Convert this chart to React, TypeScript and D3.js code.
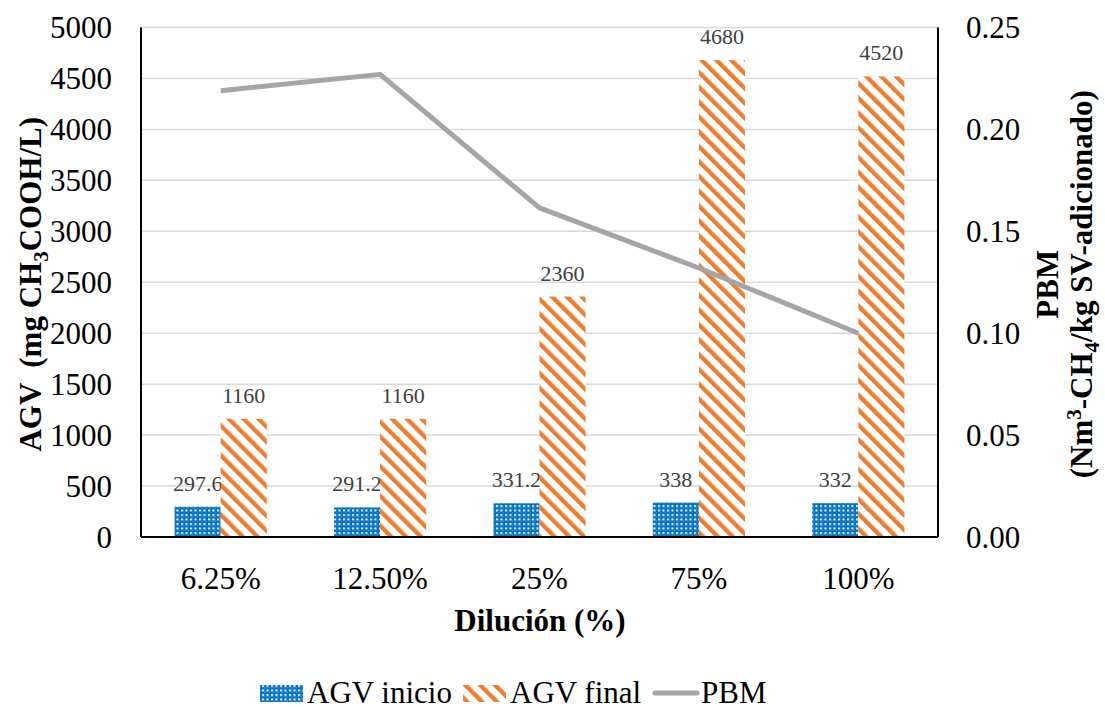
import * as d3 from "d3";

const categories = ["6.25%", "12.50%", "25%", "75%", "100%"];
const agvInicio = [297.6, 291.2, 331.2, 338, 332];
const agvFinal = [1160, 1160, 2360, 4680, 4520];
const pbm = [0.219, 0.227, 0.1615, 0.132, 0.1];
const leftTicks = d3.range(0, 5001, 500);
const rightTicks = d3.range(0, 0.2501, 0.05);
const seriesNames = ["AGV inicio", "AGV final"];

const W = 1105;
const H = 709;
const plot = { left: 141, right: 938, top: 27.5, bottom: 537 };
const FONT = "'Liberation Serif', 'Times New Roman', serif";
const FS = 31;

export default function App() {
  const x0 = d3.scaleBand<string>().domain(categories).range([plot.left, plot.right]);
  const x1 = d3
    .scaleBand<string>()
    .domain(seriesNames)
    .range([0, x0.bandwidth()])
    .paddingOuter(0.73);
  const yL = d3.scaleLinear().domain([0, 5000]).range([plot.bottom, plot.top]);
  const yR = d3.scaleLinear().domain([0, 0.25]).range([plot.bottom, plot.top]);

  const line = d3
    .line<number>()
    .x((_, i) => (x0(categories[i]) ?? 0) + x0.bandwidth() / 2)
    .y((d) => yR(d));

  const bars = categories.flatMap((c, i) => [
    { cat: c, s: seriesNames[0], v: agvInicio[i], fill: "url(#dotgrid)" },
    { cat: c, s: seriesNames[1], v: agvFinal[i], fill: "url(#stripes)" },
  ]);
  const midY = (plot.top + plot.bottom) / 2 + 2;

  return (
    <svg
      width={W}
      height={H}
      style={{ position: "absolute", left: 0, top: 0, background: "#fff", fontFamily: FONT }}
    >
      <defs>
        <pattern id="dotgrid" width="4.5" height="4.5" patternUnits="userSpaceOnUse">
          <rect width="4.5" height="4.5" fill="#0070C0" />
          <rect x="1" y="1" width="2" height="2" fill="#ffffff" />
          <rect x="3.4" y="3.4" width="0.8" height="0.8" fill="#9cc8ec" />
        </pattern>
        <pattern
          id="stripes"
          width="10.5"
          height="10.5"
          patternUnits="userSpaceOnUse"
          patternTransform="rotate(-45)"
        >
          <rect width="10.5" height="10.5" fill="#ffffff" />
          <rect width="4.3" height="10.5" fill="#ED7D31" />
        </pattern>
      </defs>

      {/* gridlines */}
      {leftTicks.map((t) => (
        <line
          key={t}
          x1={plot.left}
          x2={plot.right}
          y1={yL(t)}
          y2={yL(t)}
          stroke="#d9d9d9"
          strokeWidth={1.5}
        />
      ))}

      {/* bars */}
      {bars.map((b) => {
        const bx = (x0(b.cat) ?? 0) + (x1(b.s) ?? 0);
        return (
          <g key={b.cat + b.s}>
            <rect
              x={bx}
              y={yL(b.v)}
              width={x1.bandwidth()}
              height={plot.bottom - yL(b.v)}
              fill={b.fill}
            />
            <text
              x={bx + x1.bandwidth() / 2}
              y={yL(b.v) - 16}
              textAnchor="middle"
              fontSize={22}
              fill="#404040"
            >
              {b.v}
            </text>
          </g>
        );
      })}

      {/* PBM line */}
      <path d={line(pbm) ?? ""} fill="none" stroke="#A5A5A5" strokeWidth={5} strokeLinejoin="round" />

      {/* axes lines */}
      <line x1={plot.left} x2={plot.left} y1={plot.top} y2={plot.bottom} stroke="#000" strokeWidth={2} />
      <line x1={plot.right} x2={plot.right} y1={plot.top} y2={plot.bottom} stroke="#000" strokeWidth={2} />
      <line x1={plot.left} x2={plot.right} y1={plot.bottom} y2={plot.bottom} stroke="#000" strokeWidth={2} />

      {/* left ticks */}
      {leftTicks.map((t) => (
        <text key={t} x={plot.left - 29} y={yL(t)} dy="0.35em" textAnchor="end" fontSize={FS}>
          {t}
        </text>
      ))}
      {/* right ticks */}
      {rightTicks.map((t) => (
        <text key={t} x={plot.right + 28} y={yR(t)} dy="0.35em" textAnchor="start" fontSize={FS}>
          {d3.format(".2f")(t)}
        </text>
      ))}
      {/* category labels */}
      {categories.map((c) => (
        <text
          key={c}
          x={(x0(c) ?? 0) + x0.bandwidth() / 2}
          y={578}
          dy="0.35em"
          textAnchor="middle"
          fontSize={FS}
        >
          {c}
        </text>
      ))}

      {/* axis titles */}
      <text x={540} y={620} dy="0.35em" textAnchor="middle" fontSize={FS} fontWeight="bold">
        Dilución (%)
      </text>
      <text
        transform={`translate(30, ${midY}) rotate(-90)`}
        dy="0.35em"
        textAnchor="middle"
        fontSize={FS}
        fontWeight="bold"
        style={{ whiteSpace: "pre" }}
      >
        {"AGV  (mg CH"}
        <tspan fontSize={21} dy="7">3</tspan>
        <tspan dy="-7">COOH/L)</tspan>
      </text>
      <text
        transform={`translate(1047, ${midY}) rotate(-90)`}
        dy="0.35em"
        textAnchor="middle"
        fontSize={FS}
        fontWeight="bold"
      >
        PBM
      </text>
      <text
        transform={`translate(1081, ${midY}) rotate(-90)`}
        dy="0.35em"
        textAnchor="middle"
        fontSize={FS}
        fontWeight="bold"
      >
        (Nm
        <tspan fontSize={21} dy="-11">3</tspan>
        <tspan dy="11">-CH</tspan>
        <tspan fontSize={21} dy="7">4</tspan>
        <tspan dy="-7">/kg SV-adicionado)</tspan>
      </text>

      {/* legend */}
      <g fontSize={FS}>
        <rect x={260} y={685} width={43} height={17} fill="url(#dotgrid)" />
        <text x={307} y={703}>AGV inicio</text>
        <rect x={463} y={685} width={43} height={17} fill="url(#stripes)" />
        <text x={510} y={703}>AGV final</text>
        <line x1={655} x2={697} y1={693} y2={693} stroke="#A5A5A5" strokeWidth={5} strokeLinecap="round" />
        <text x={701} y={703}>PBM</text>
      </g>
    </svg>
  );
}
